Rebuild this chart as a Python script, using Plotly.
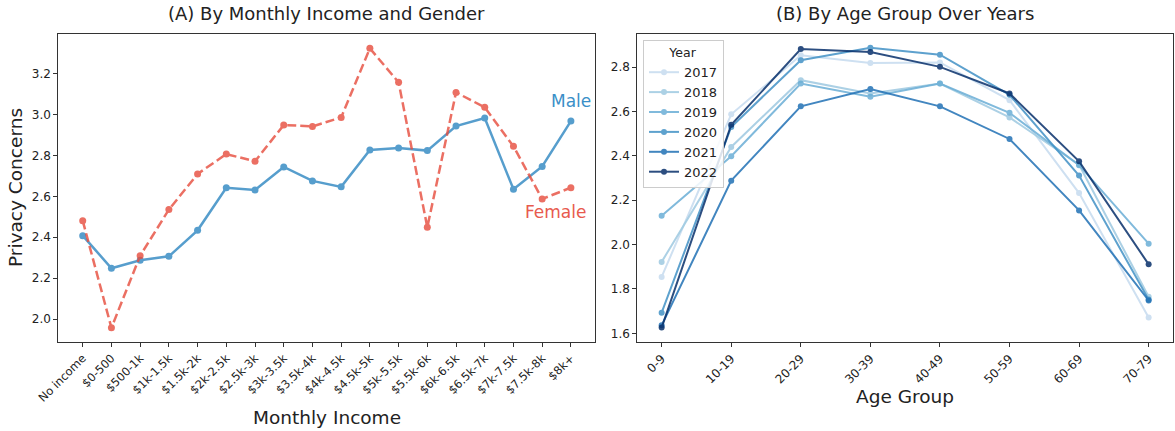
import plotly.graph_objects as go

# ---------------- data ----------------
income_cats = ["No income", "$0-500", "$500-1k", "$1k-1.5k", "$1.5k-2k", "$2k-2.5k",
               "$2.5k-3k", "$3k-3.5k", "$3.5k-4k", "$4k-4.5k", "$4.5k-5k", "$5k-5.5k",
               "$5.5k-6k", "$6k-6.5k", "$6.5k-7k", "$7k-7.5k", "$7.5k-8k", "$8k+"]
male_vals = [2.408, 2.249, 2.288, 2.307, 2.434, 2.642, 2.631, 2.743, 2.675, 2.646,
             2.826, 2.836, 2.823, 2.943, 2.982, 2.634, 2.746, 2.967]
female_vals = [2.481, 1.958, 2.310, 2.535, 2.709, 2.806, 2.771, 2.948, 2.941, 2.985,
               3.322, 3.156, 2.449, 3.107, 3.034, 2.844, 2.587, 2.642]

age_groups = ["0-9", "10-19", "20-29", "30-39", "40-49", "50-59", "60-69", "70-79"]
years = ["2017", "2018", "2019", "2020", "2021", "2022"]
vals_2017 = [1.854, 2.587, 2.853, 2.818, 2.821, 2.651, 2.232, 1.671]
vals_2018 = [1.922, 2.440, 2.741, 2.681, 2.726, 2.573, 2.360, 1.765]
vals_2019 = [2.130, 2.398, 2.726, 2.666, 2.726, 2.594, 2.358, 2.004]
vals_2020 = [1.693, 2.530, 2.831, 2.887, 2.856, 2.675, 2.311, 1.752]
vals_2021 = [1.636, 2.288, 2.623, 2.701, 2.623, 2.476, 2.154, 1.748]
vals_2022 = [1.626, 2.540, 2.881, 2.868, 2.801, 2.681, 2.375, 1.911]
year_vals = [vals_2017, vals_2018, vals_2019, vals_2020, vals_2021, vals_2022]
year_colors = ["#c6dbef", "#9ecae1", "#6baed6", "#4292c6", "#2171b5", "#08306b"]

MALE_C = "#2e86c1"
FEMALE_C = "#e74c3c"
FONT = "DejaVu Sans"
W, H = 1175, 431

fig = go.Figure()

idx = list(range(len(income_cats)))
fig.add_trace(go.Scatter(x=idx, y=male_vals, mode="lines+markers", name="Male",
                         line=dict(color=MALE_C, width=2.5),
                         marker=dict(size=7, color=MALE_C), opacity=0.8,
                         xaxis="x", yaxis="y", showlegend=False))
fig.add_trace(go.Scatter(x=idx, y=female_vals, mode="lines+markers", name="Female",
                         line=dict(color=FEMALE_C, width=2.5, dash="9px,4px"),
                         marker=dict(size=7, color=FEMALE_C), opacity=0.8,
                         xaxis="x", yaxis="y", showlegend=False))

aidx = list(range(len(age_groups)))
for yr, vals, col in zip(years, year_vals, year_colors):
    fig.add_trace(go.Scatter(x=aidx, y=vals, mode="lines+markers", name=yr,
                             line=dict(color=col, width=2),
                             marker=dict(size=6, color=col), opacity=0.85,
                             xaxis="x2", yaxis="y2"))

# layout in pixel terms
def px_x(p):
    return p / W

def px_y(p):
    return 1 - p / H

axis_common = dict(showline=True, linecolor="#333333", linewidth=1, mirror=True,
                   ticks="outside", ticklen=4, tickcolor="#333333", showgrid=False,
                   zeroline=False, automargin=False,
                   tickfont=dict(family=FONT, size=12, color="#222222"))

fig.update_layout(
    width=W, height=H,
    margin=dict(l=0, r=0, t=0, b=0, autoexpand=False),
    paper_bgcolor="white", plot_bgcolor="white",
    font=dict(family=FONT, color="#222222"),
    xaxis=dict(domain=[px_x(58.3), px_x(595.3)], anchor="y",
               tickvals=idx, ticktext=income_cats, tickangle=-45,
               range=[-0.85, len(income_cats) - 1 + 0.85],
               **{**axis_common, "tickfont": dict(family=FONT, size=11.5, color="#222222")}),
    yaxis=dict(domain=[px_y(342), px_y(34)], anchor="x",
               range=[1.889, 3.392], tickvals=[2.0, 2.2, 2.4, 2.6, 2.8, 3.0, 3.2],
               tickformat=".1f", **axis_common),
    xaxis2=dict(domain=[px_x(637.3), px_x(1173)], anchor="y2",
                tickvals=aidx, ticktext=age_groups, tickangle=-45,
                range=[-0.35, len(age_groups) - 1 + 0.35], **axis_common),
    yaxis2=dict(domain=[px_y(342), px_y(34)], anchor="x2",
                range=[1.561, 2.949], tickvals=[1.6, 1.8, 2.0, 2.2, 2.4, 2.6, 2.8],
                tickformat=".1f", **axis_common),
    legend=dict(x=px_x(643), y=px_y(40), xanchor="left", yanchor="top",
                bgcolor="rgba(255,255,255,0.85)", bordercolor="#cccccc", borderwidth=1,
                font=dict(family=FONT, size=13, color="#222222"),
                title=dict(text="Year", side="top center", font=dict(family=FONT, size=12.5)),
                tracegroupgap=0, itemwidth=30),
)

ann = []
# titles
ann.append(dict(text="(A) By Monthly Income and Gender", x=px_x(326.8), y=px_y(13),
                xref="paper", yref="paper", showarrow=False, xanchor="center", yanchor="middle",
                font=dict(family=FONT, size=18, color="#222222")))
ann.append(dict(text="(B) By Age Group Over Years", x=px_x(905), y=px_y(13),
                xref="paper", yref="paper", showarrow=False, xanchor="center", yanchor="middle",
                font=dict(family=FONT, size=18, color="#222222")))
# axis titles
ann.append(dict(text="Privacy Concerns", x=px_x(16), y=px_y(188), textangle=-90,
                xref="paper", yref="paper", showarrow=False, xanchor="center", yanchor="middle",
                font=dict(family=FONT, size=18.5, color="#222222")))
ann.append(dict(text="Monthly Income", x=px_x(326.8), y=px_y(417),
                xref="paper", yref="paper", showarrow=False, xanchor="center", yanchor="middle",
                font=dict(family=FONT, size=18.5, color="#222222")))
ann.append(dict(text="Age Group", x=px_x(905), y=px_y(396),
                xref="paper", yref="paper", showarrow=False, xanchor="center", yanchor="middle",
                font=dict(family=FONT, size=18.5, color="#222222")))
# series labels next to the last points
ann.append(dict(text="Male", x=idx[-1], y=male_vals[-1] + 0.1, xref="x", yref="y",
                showarrow=False, xanchor="center", yanchor="middle",
                font=dict(family=FONT, size=17, color="#3a8fc8")))
ann.append(dict(text="Female", x=idx[-1], y=female_vals[-1] - 0.117, xref="x", yref="y",
                showarrow=False, xanchor="center", yanchor="middle", xshift=-15,
                font=dict(family=FONT, size=17, color="#e85a4e")))
fig.update_layout(annotations=ann)

fig.write_html("out.html")
